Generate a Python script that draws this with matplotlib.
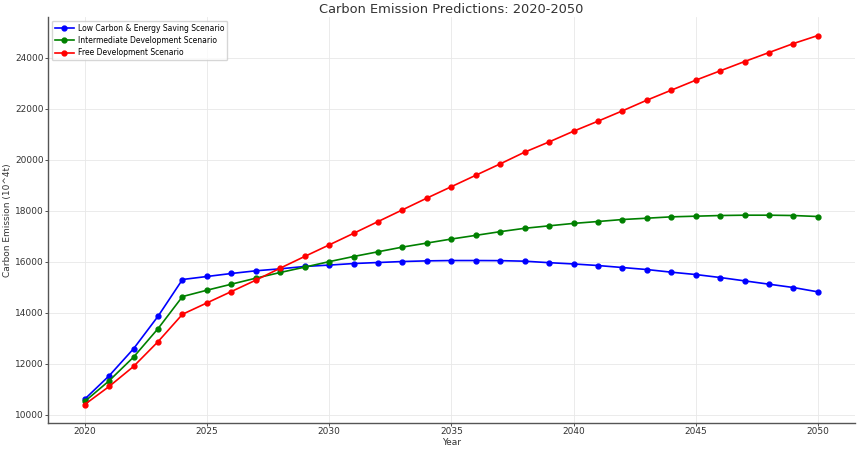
import matplotlib
matplotlib.use("Agg")
import matplotlib.pyplot as plt

years = list(range(2020, 2051))

low_carbon = [10603, 11520, 12582, 13853, 15295, 15413, 15531, 15636, 15714, 15806,
              15860, 15921, 15961, 16000, 16026, 16039, 16039, 16035, 16013, 15955,
              15905, 15843, 15765, 15686, 15582, 15490, 15373, 15242, 15111, 14980, 14810]

intermediate = [10511, 11324, 12254, 13368, 14626, 14875, 15111, 15347, 15570, 15780,
                15995, 16197, 16382, 16566, 16724, 16882, 17026, 17171, 17303, 17400,
                17495, 17569, 17647, 17699, 17752, 17778, 17804, 17817, 17817, 17804, 17765]

free_dev = [10393, 11101, 11887, 12857, 13932, 14377, 14823, 15269, 15740, 16199,
            16650, 17105, 17566, 18026, 18487, 18934, 19382, 19829, 20289, 20690,
            21110, 21503, 21908, 22327, 22719, 23111, 23477, 23843, 24196, 24549, 24863]

fig, ax = plt.subplots(figsize=(8.58, 4.49), dpi=100)
fig.subplots_adjust(left=0.056, right=0.996, bottom=0.058, top=0.962)

ax.plot(years, low_carbon, color="blue", marker="o", markersize=3.5, linewidth=1.2,
        label="Low Carbon & Energy Saving Scenario")
ax.plot(years, intermediate, color="green", marker="o", markersize=3.5, linewidth=1.2,
        label="Intermediate Development Scenario")
ax.plot(years, free_dev, color="red", marker="o", markersize=3.5, linewidth=1.2,
        label="Free Development Scenario")

ax.set_title("Carbon Emission Predictions: 2020-2050", fontsize=9.4, color="#333333", pad=3)
ax.set_xlabel("Year", fontsize=6.5, color="#333333", labelpad=1)
ax.set_ylabel("Carbon Emission (10^4t)", fontsize=6.5, color="#333333", labelpad=2)
ax.set_xticks([2020, 2025, 2030, 2035, 2040, 2045, 2050])
ax.tick_params(labelsize=6.5, colors="#333333", length=2, width=0.6, pad=1)
ax.grid(True, color="#e8e8e8", linewidth=0.6)
for s in ["top", "right"]:
    ax.spines[s].set_visible(False)
for s in ["left", "bottom"]:
    ax.spines[s].set_color("#555555")
    ax.spines[s].set_linewidth(1.0)

ax.legend(loc="upper left", fontsize=5.5, frameon=True, borderaxespad=0.5,
          handlelength=2.6, handletextpad=0.5, labelspacing=0.45, borderpad=0.35)

fig.savefig("out.png", dpi=100, facecolor="white")
